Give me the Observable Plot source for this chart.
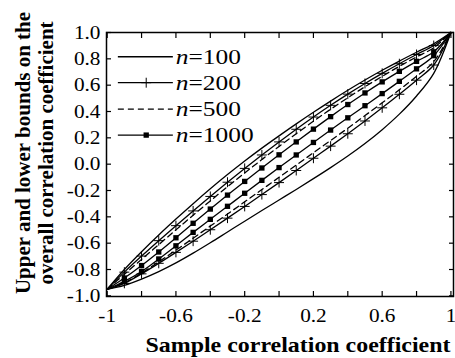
<!DOCTYPE html>
<html><head><meta charset="utf-8">
<script src="https://cdn.jsdelivr.net/npm/d3@7"></script>
<script src="https://cdn.jsdelivr.net/npm/@observablehq/plot@0.6"></script>
<style>
body{margin:0;background:#fff;}
#chart{width:455px;height:358px;}
</style></head><body><div id="chart"></div>
<script>
// ---- data ----
const sampleR = [-1,-0.9,-0.8,-0.7,-0.6,-0.5,-0.4,-0.3,-0.2,-0.1,0,0.1,0.2,0.3,0.4,0.5,0.6,0.7,0.8,0.9,1];
const upper100 = [-0.95,-0.80,-0.665,-0.538,-0.417,-0.30,-0.187,-0.079,0.024,0.122,0.215,0.306,0.394,0.479,0.561,0.639,0.713,0.783,0.850,0.915,1.0];
const lower100 = [-0.95,-0.92,-0.873,-0.816,-0.75,-0.676,-0.597,-0.515,-0.433,-0.352,-0.272,-0.192,-0.11,-0.026,0.062,0.157,0.262,0.38,0.518,0.69,1.0];
const upper200 = [-0.95,-0.82,-0.698,-0.581,-0.467,-0.355,-0.245,-0.137,-0.032,0.07,0.169,0.265,0.358,0.447,0.532,0.613,0.69,0.763,0.833,0.901,1.0];
const lower200 = [-0.95,-0.905,-0.833,-0.753,-0.67,-0.585,-0.498,-0.41,-0.321,-0.231,-0.14,-0.048,0.045,0.137,0.231,0.328,0.428,0.531,0.638,0.753,1.0];
const upper500 = [-0.95,-0.836,-0.723,-0.611,-0.499,-0.388,-0.279,-0.171,-0.067,0.035,0.135,0.231,0.326,0.417,0.504,0.588,0.667,0.743,0.815,0.884,1.0];
const lower500 = [-0.95,-0.90,-0.827,-0.741,-0.653,-0.562,-0.47,-0.379,-0.286,-0.193,-0.10,-0.007,0.087,0.18,0.273,0.369,0.466,0.565,0.668,0.778,1.0];
const upper1000 = [-0.95,-0.865,-0.77,-0.667,-0.559,-0.449,-0.341,-0.235,-0.131,-0.029,0.071,0.169,0.266,0.361,0.453,0.541,0.625,0.705,0.781,0.853,1.0];
const lower1000 = [-0.95,-0.89,-0.815,-0.72,-0.62,-0.518,-0.419,-0.32,-0.221,-0.123,-0.026,0.07,0.165,0.259,0.352,0.444,0.536,0.629,0.724,0.824,1.0];

const seriesN = ["100","200","500","1000"];
const xTickValues = [-1,-0.8,-0.6,-0.4,-0.2,0,0.2,0.4,0.6,0.8,1];
const xLabelValues = [-1,-0.6,-0.2,0.2,0.6,1];
const xLabelText = ["-1","-0.6","-0.2","0.2","0.6","1"];
const yTickValues = [-1,-0.8,-0.6,-0.4,-0.2,0,0.2,0.4,0.6,0.8,1];
const yTickText = ["-1.0","-0.8","-0.6","-0.4","-0.2","0.0","0.2","0.4","0.6","0.8","1.0"];
const xTitle = "Sample correlation coefficient";
const yTitle1 = "Upper and lower bounds on the";
const yTitle2 = "overall correlation coefficient";

// ---- build tidy rows ----
function rows(n, bound, vals){ return sampleR.map((r,i)=>({r, v: vals[i], key: n + bound, idx: i})); }
const solidRows = [].concat(rows("100","U",upper100), rows("100","L",lower100),
  rows("200","U",upper200), rows("200","L",lower200),
  rows("1000","U",upper1000), rows("1000","L",lower1000));
const dashRows = [].concat(rows("500","U",upper500), rows("500","L",lower500));
const plusRows = [].concat(rows("200","U",upper200), rows("200","L",lower200)).filter(d => d.idx > 0 && d.idx < 20);
const squareRows = [].concat(rows("1000","U",upper1000), rows("1000","L",lower1000)).filter(d => d.idx > 0 && d.idx < 20);

const FONT = "Liberation Serif, Times New Roman, serif";
const PLUS_R = 3.3, SQ_R = 3.0;

const plot = Plot.plot({
  width: 455, height: 358,
  marginLeft: 106, marginRight: 2, marginTop: 32, marginBottom: 62,
  x: {domain: [-1.004, 1.015], label: null},
  y: {domain: [-1.005, 1.0], label: null},
  style: {fontFamily: FONT, fontSize: "19px", color: "black", background: "white"},
  marks: [
    Plot.line(solidRows, {x: "r", y: "v", z: "key", stroke: "black", strokeWidth: 1.3, curve: "catmull-rom"}),
    Plot.line(dashRows, {x: "r", y: "v", z: "key", stroke: "black", strokeWidth: 1.3, strokeDasharray: "6,4", curve: "catmull-rom"}),
    Plot.dot(plusRows, {x: "r", y: "v", symbol: "plus", r: PLUS_R, stroke: "black", strokeWidth: 1.0}),
    Plot.dot(squareRows, {x: "r", y: "v", symbol: "square", r: SQ_R, fill: "black", stroke: null}),
    Plot.axisX({anchor: "bottom", ticks: xTickValues, tickSize: -5, tickFormat: () => "", strokeWidth: 1.2}),
    Plot.axisX({anchor: "top", ticks: xTickValues, tickSize: -5, tickFormat: () => "", strokeWidth: 1.2}),
    Plot.axisY({anchor: "left", ticks: yTickValues, tickSize: -5, tickFormat: () => "", strokeWidth: 1.2}),
    Plot.axisY({anchor: "right", ticks: yTickValues, tickSize: -5, tickFormat: () => "", strokeWidth: 1.2}),
    Plot.axisX({anchor: "bottom", ticks: xLabelValues, tickSize: 0, tickPadding: 12,
      tickFormat: d => xLabelText[xLabelValues.indexOf(d)], fontSize: 19}),
    Plot.axisY({anchor: "left", ticks: yTickValues, tickSize: 0, tickPadding: 6,
      tickFormat: d => yTickText[yTickValues.indexOf(d)], fontSize: 19}),
    Plot.frame({stroke: "black", strokeWidth: 1.5})
  ]
});

document.getElementById("chart").appendChild(plot);
const svg = d3.select(plot);
const xs = plot.scale("x"), ys = plot.scale("y");

function stretch(sel, f) {
  sel.each(function() {
    const L = this.getComputedTextLength();
    if (L > 0) { this.setAttribute("textLength", (L * f).toFixed(1)); this.setAttribute("lengthAdjust", "spacingAndGlyphs"); }
  });
}
svg.selectAll('g[aria-label="x-axis tick label"] text').call(stretch, 1.12);
svg.selectAll('g[aria-label="y-axis tick label"] text').call(stretch, 1.12);

// axis titles
svg.append("text").text(xTitle)
  .attr("x", 298).attr("y", 352).attr("text-anchor", "middle")
  .attr("font-family", FONT).attr("font-weight", "bold").attr("font-size", 21).attr("fill", "black")
  .attr("textLength", 305).attr("lengthAdjust", "spacingAndGlyphs");
svg.append("text").text(yTitle1)
  .attr("transform", "translate(29.5,153) rotate(-90)").attr("text-anchor", "middle")
  .attr("font-family", FONT).attr("font-weight", "bold").attr("font-size", 21).attr("fill", "black");
svg.append("text").text(yTitle2)
  .attr("transform", "translate(53,153) rotate(-90)").attr("text-anchor", "middle")
  .attr("font-family", FONT).attr("font-weight", "bold").attr("font-size", 21).attr("fill", "black");

// legend
const legendY = [0.812, 0.615, 0.415, 0.217];
const legX0 = -0.935, legX1 = -0.615, legMid = -0.77, legText = -0.598;
const lg = svg.append("g").attr("aria-label", "legend");
seriesN.forEach((n, i) => {
  const y = ys.apply(legendY[i]);
  lg.append("line").attr("x1", xs.apply(legX0)).attr("x2", xs.apply(legX1)).attr("y1", y).attr("y2", y)
    .attr("stroke", "black").attr("stroke-width", 1.3).attr("stroke-dasharray", n === "500" ? "6,4" : null);
  if (n === "200") {
    lg.append("path").attr("d", d3.symbol(d3.symbolPlus, Math.PI * PLUS_R * PLUS_R)())
      .attr("transform", `translate(${xs.apply(legMid)},${y})`).attr("stroke", "black").attr("stroke-width", 1.0).attr("fill", "none");
  }
  if (n === "1000") {
    const s = SQ_R * Math.sqrt(Math.PI);
    lg.append("rect").attr("x", xs.apply(legMid) - s / 2).attr("y", y - s / 2).attr("width", s).attr("height", s).attr("fill", "black");
  }
  const g = lg.append("g").attr("transform", `translate(${xs.apply(legText)},${y}) scale(1.27,1)`);
  const t = g.append("text").attr("x", 0).attr("y", 0).attr("dy", "0.34em").attr("text-anchor", "start")
    .attr("font-family", FONT).attr("font-size", 20).attr("fill", "black");
  t.append("tspan").attr("font-style", "italic").text("n");
  t.append("tspan").text("=" + n);
});
</script>
</body></html>
